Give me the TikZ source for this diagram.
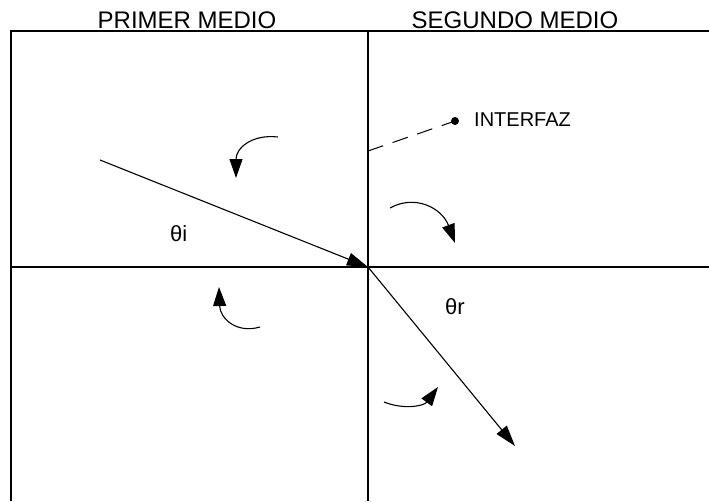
\documentclass[tikz,border=0pt]{standalone}
\usepackage{fontspec}
\setmainfont{Liberation Sans}
\usetikzlibrary{arrows.meta}
\begin{document}
\begin{tikzpicture}[x=1pt,y=-1pt,
  frame/.style={line width=1.4pt},
  ray/.style={line width=1.1pt,-{Triangle[length=21pt,width=13pt]}},
  turn/.style={line width=1.1pt,-{Triangle[length=19pt,width=13pt]}},
  head/.style={inner sep=0pt,anchor=base,font=\fontsize{24}{24}\selectfont},
  lbl/.style={inner sep=0pt,anchor=base west,font=\fontsize{20}{20}\selectfont},
  theta/.style={inner sep=0pt,anchor=base west,font=\fontsize{22}{22}\selectfont}]
\useasboundingbox (0,0) rectangle (709,501);
% frame
\coordinate (tl) at (10,31);
\coordinate (tr) at (709,31);
\coordinate (tm) at (368,31);
\coordinate (bm) at (368,501);
\coordinate (lt) at (11,31);
\coordinate (bl) at (11,501);
\coordinate (ml) at (10,267);
\coordinate (mr) at (709,267);
\coordinate (o) at (368,267);
\draw[frame] (tl) -- (tr);
\draw[frame] (lt) -- (bl);
\draw[frame] (tm) -- (bm);
\draw[line width=2pt] (ml) -- (mr);
% headings
\node[head] (h1) at (187,28) {PRIMER MEDIO};
\node[head] (h2) at (515,28) {SEGUNDO MEDIO};
% rays
\coordinate (a) at (100,160);
\coordinate (b) at (515,446);
\draw[ray] (a) -- (o);
\draw[ray] (o) -- (b);
\node[theta] (ti) at (170,241) {θi};
\node[theta] (tr2) at (445,314) {θr};
% interface pointer
\coordinate (ip) at (368,151);
\node[circle,fill,inner sep=0pt,minimum size=8pt] (dot) at (455,121) {};
\draw[line width=1pt,dash pattern=on 16pt off 10pt] (ip) -- (dot.center);
\node[lbl] (inter) at (474,126) {INTERFAZ};
% curved arrows
\coordinate (c1s) at (278,137); \coordinate (c1e) at (236,178);
\draw[turn] (c1s) .. controls (252,134) and (236,148) .. (c1e);
\coordinate (c2s) at (390,208); \coordinate (c2e) at (455,243);
\draw[turn] (c2s) .. controls (415,194) and (442,208) .. (c2e);
\coordinate (c3s) at (260,327); \coordinate (c3e) at (219,287);
\draw[turn] (c3s) .. controls (236,334) and (220,318) .. (c3e);
\coordinate (c4s) at (384,402); \coordinate (c4e) at (438,387);
\draw[turn] (c4s) .. controls (404,410) and (424,406) .. (c4e);
\end{tikzpicture}
\end{document}
